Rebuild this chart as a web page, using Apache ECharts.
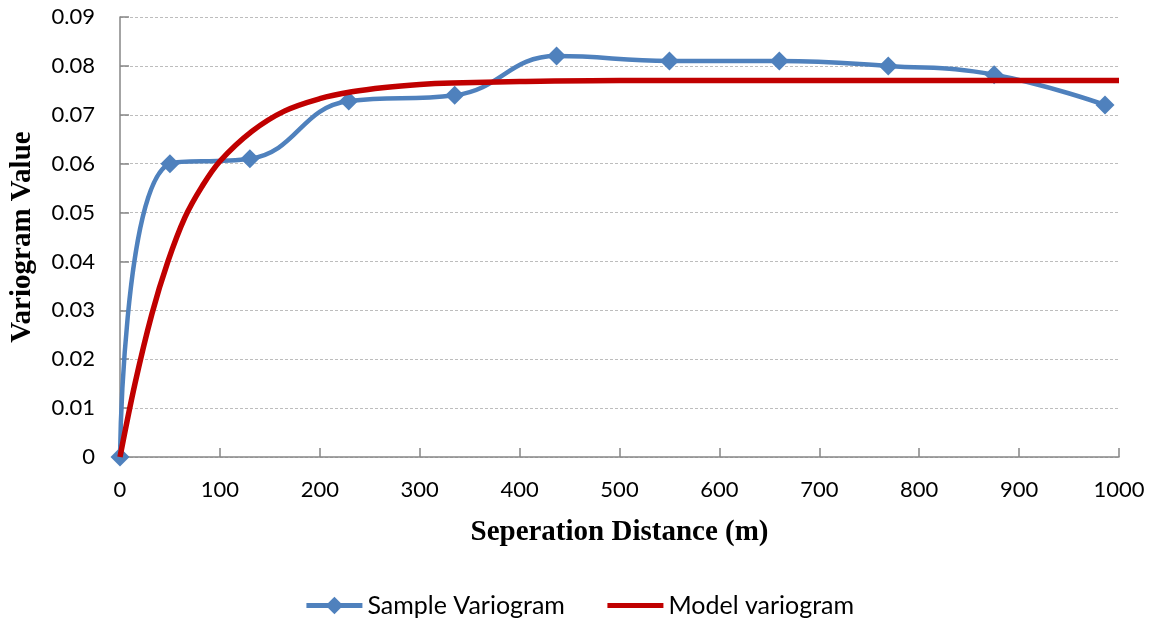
<!DOCTYPE html>
<html>
<head>
<meta charset="utf-8">
<script src="https://cdn.jsdelivr.net/npm/echarts@6/dist/echarts.min.js"></script>
<style>
  html, body { margin: 0; padding: 0; background: #fff; }
  #main { width: 1158px; height: 622px; }
</style>
</head>
<body>
<div id="main"></div>
<script>
// 样本变差函数 (读图得到的点)
const sampleDist = [0, 50, 130, 229, 335, 437, 550, 660, 769, 875, 986]
const sampleValue = [0, 0.060, 0.061, 0.0728, 0.074, 0.082, 0.081, 0.081, 0.080, 0.0782, 0.072]

// 模型变差函数 (沿红线读取)
const modelDist = [0, 15, 32, 48, 65, 82, 100, 132, 165, 200, 232, 265, 300, 332, 400, 500, 600, 700, 800, 900, 1000]
const modelValue = [0, 0.015, 0.0293, 0.040, 0.049, 0.0553, 0.0605, 0.0666, 0.0708, 0.0733, 0.0747, 0.0756, 0.0762, 0.0765, 0.0768, 0.077, 0.077, 0.077, 0.077, 0.077, 0.077]

// 坐标轴刻度
const xTicks = [0, 100, 200, 300, 400, 500, 600, 700, 800, 900, 1000]
const yTicks = [0, 0.01, 0.02, 0.03, 0.04, 0.05, 0.06, 0.07, 0.08, 0.09]

function pairs(xs, ys) {
  return xs.map((x, i) => [x, ys[i]])
}

var myChart = echarts.init(document.getElementById('main'))

var axisFont = { fontFamily: 'Lato', fontSize: 22, color: '#000' }
var nameFont = { fontFamily: 'Liberation Serif', fontSize: 29, fontWeight: 'bold', color: '#000' }

var option = {
  animation: false,
  grid: { left: 118, right: 39, top: 17, bottom: 165 },
  legend: {
    top: 588,
    left: 'center',
    itemWidth: 56,
    itemHeight: 22,
    itemGap: 40,
    textStyle: { fontFamily: 'Lato', fontSize: 25, color: '#000' },
    data: [
      { name: 'Sample Variogram', lineStyle: { width: 5 } },
      // 模型线图例只显示线，不显示圆点
      { name: 'Model variogram', itemStyle: { opacity: 0 }, lineStyle: { width: 5 } }
    ]
  },
  xAxis: {
    type: 'value',
    min: xTicks[0],
    max: xTicks[xTicks.length - 1],
    interval: 100,
    name: 'Seperation Distance (m)',
    nameLocation: 'middle',
    nameGap: 61,
    nameTextStyle: nameFont,
    axisLine: { lineStyle: { color: '#868686', width: 1.5 } },
    axisTick: { inside: true, length: 9, lineStyle: { color: '#868686', width: 1.5 } },
    axisLabel: Object.assign({ margin: 22, formatter: v => String(v) }, axisFont),
    splitLine: { show: false }
  },
  yAxis: {
    type: 'value',
    min: yTicks[0],
    max: yTicks[yTicks.length - 1],
    interval: 0.01,
    name: 'Variogram Value',
    nameLocation: 'middle',
    nameGap: 83,
    nameTextStyle: nameFont,
    axisLine: { show: true, lineStyle: { color: '#868686', width: 1.5 } },
    axisTick: { show: true, inside: true, length: 9, lineStyle: { color: '#868686', width: 1.5 } },
    axisLabel: Object.assign({
      margin: 25,
      formatter: v => (v === 0 ? '0' : v.toFixed(2))
    }, axisFont),
    splitLine: { lineStyle: { color: '#bdbdbd', type: [3, 2], width: 1 } }
  },
  series: [
    {
      name: 'Sample Variogram',
      type: 'line',
      data: pairs(sampleDist, sampleValue),
      smooth: 0.45,
      symbol: 'diamond',
      symbolSize: 19,
      itemStyle: { color: '#4F81BD' },
      lineStyle: { color: '#4F81BD', width: 4.5 },
      z: 2
    },
    {
      name: 'Model variogram',
      type: 'line',
      data: pairs(modelDist, modelValue),
      smooth: 0.35,
      showSymbol: false,
      symbol: 'circle',
      itemStyle: { color: '#C00000' },
      lineStyle: { color: '#C00000', width: 5.5 },
      z: 3
    }
  ]
}

myChart.setOption(option)
</script>
</body>
</html>
